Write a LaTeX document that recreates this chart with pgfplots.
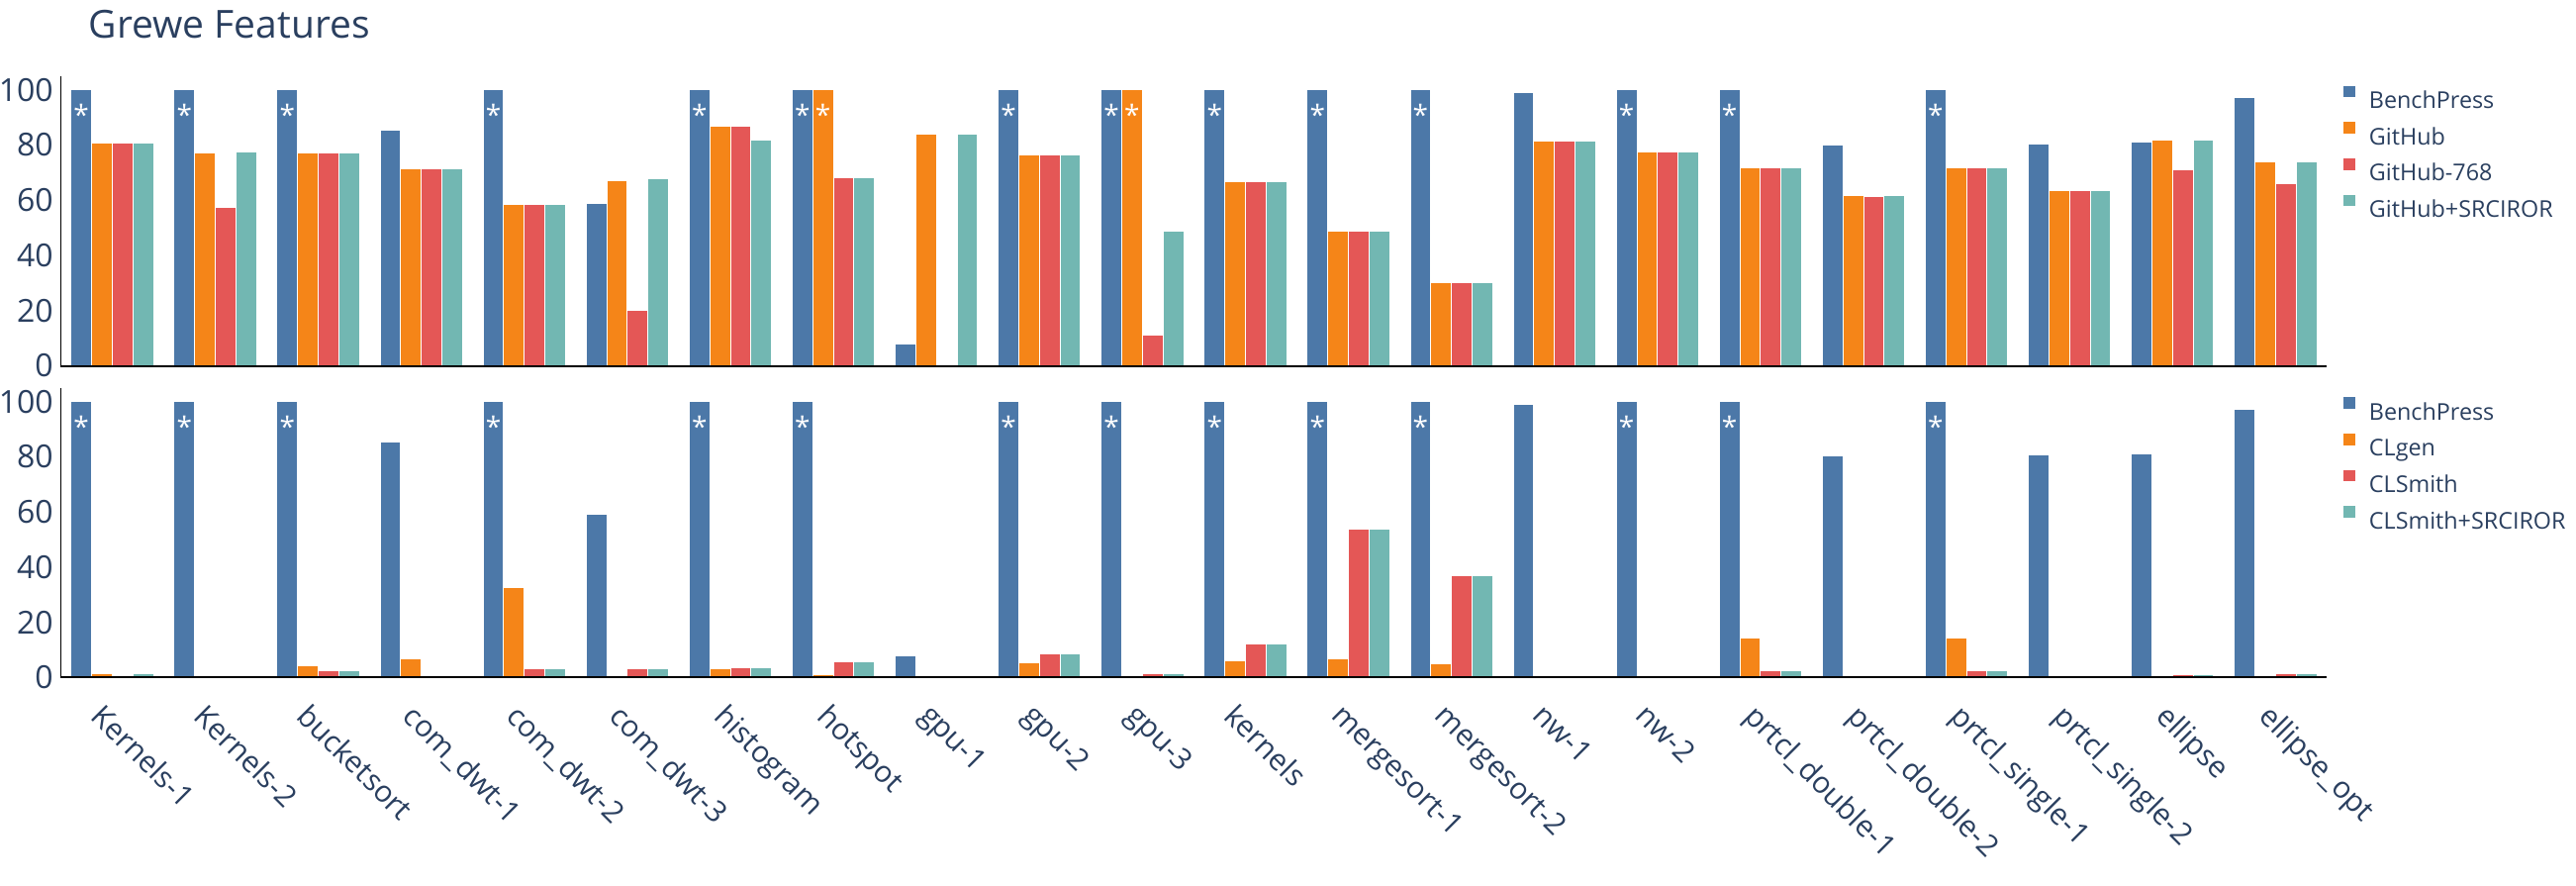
\documentclass[border=0pt]{standalone}
\usepackage{fontspec}
\setmainfont{Open Sans}
\usepackage{graphicx}
\usepackage{pgfplots}
\pgfplotsset{compat=1.18}
\definecolor{cBP}{HTML}{4C78A8}
\definecolor{cGH}{HTML}{F58518}
\definecolor{cGR}{HTML}{E45756}
\definecolor{cTE}{HTML}{72B7B2}
\definecolor{txt}{HTML}{2A3F5F}
\newcommand\xl[1]{\rotatebox{-45}{#1}}
\pgfplotsset{
  grewe/.style={
    scale only axis, width=687pt, height=87.8pt,
    xmin=-0.5, xmax=21.5, ymin=0, ymax=105,
    axis on top,
    axis x line*=bottom, axis y line*=left,
    x axis line style={line width=0.6pt,-},
    y axis line style={line width=0.5pt,-},
    ytick={0,20,...,100}, xtick={0,...,21},
    major tick length=0pt,
    /pgf/number format/assume math mode=true,
    yticklabel style={font=\fontsize{9.6}{10}\selectfont, text=txt, inner sep=0pt, anchor=east, xshift=-2.1pt},
    ybar=0pt, bar width=6.245pt,
    every axis plot/.append style={draw=white, line width=0.3pt},
    point meta=explicit symbolic,
    nodes near coords={\pgfplotspointmeta},
    every node near coord/.append style={font=\fontsize{8.4}{9}\selectfont, text=white, anchor=north, inner sep=0pt, yshift=-4.2pt},
    legend cell align=left,
    legend style={at={(rel axis cs:1,1)}, anchor=north west, xshift=4.65pt, yshift=-2.7pt,
      draw=none, fill=none, inner sep=0pt, row sep=4.1pt, column sep=4.3pt,
      font=\fontsize{7.0}{8}\selectfont, text=txt,
      nodes={inner sep=0pt, text height=5.0pt, text depth=0pt}},
  }
}
\begin{document}
\begin{tikzpicture}
\useasboundingbox (0,0) rectangle (780.9pt,-268.2pt);
\node[anchor=base west, font=\fontsize{11.7}{14}\selectfont, text=txt, inner sep=0pt] at (26.7pt,-11.4pt) {Grewe Features};
\begin{axis}[grewe, at={(18.42pt,-110.85pt)}, anchor=south west, xticklabels={},
  every axis plot post/.append style={legend image code/.code={\fill[##1,draw=none] (0pt,0.9pt) rectangle (3.6pt,4.4pt);}}]
\addplot[fill=cBP] coordinates {(0,100)[*] (1,100)[*] (2,100)[*] (3,85.5) (4,100)[*] (5,59.0) (6,100)[*] (7,100)[*] (8,7.8) (9,100)[*] (10,100)[*] (11,100)[*] (12,100)[*] (13,100)[*] (14,99.0) (15,100)[*] (16,100)[*] (17,80.1) (18,100)[*] (19,80.4) (20,81.0) (21,97.2)};
\addplot[fill=cGH] coordinates {(0,80.7) (1,77.2) (2,77.0) (3,71.5) (4,58.5) (5,67.1) (6,86.7) (7,100)[*] (8,84.0) (9,76.3) (10,100)[*] (11,66.9) (12,48.7) (13,30.0) (14,81.5) (15,77.5) (16,71.8) (17,61.7) (18,71.8) (19,63.5) (20,81.7) (21,73.9)};
\addplot[fill=cGR] coordinates {(0,80.7) (1,57.4) (2,77.0) (3,71.5) (4,58.5) (5,20.1) (6,86.7) (7,68.2) (8,0.2) (9,76.3) (10,11.1) (11,66.9) (12,48.7) (13,30.0) (14,81.5) (15,77.5) (16,71.8) (17,61.5) (18,71.8) (19,63.4) (20,71.2) (21,66.0)};
\addplot[fill=cTE] coordinates {(0,80.7) (1,77.5) (2,77.0) (3,71.5) (4,58.5) (5,67.8) (6,81.9) (7,68.2) (8,84.0) (9,76.3) (10,48.8) (11,66.9) (12,48.7) (13,30.0) (14,81.5) (15,77.5) (16,71.8) (17,61.7) (18,71.8) (19,63.5) (20,81.7) (21,73.9)};
\legend{BenchPress,GitHub,GitHub-768,GitHub+SRCIROR}
\end{axis}
\begin{axis}[grewe, at={(18.42pt,-205.29pt)}, anchor=south west,
  xticklabels={\xl{Kernels-1},\xl{Kernels-2},\xl{bucketsort},\xl{com\_dwt-1},\xl{com\_dwt-2},\xl{com\_dwt-3},\xl{histogram},\xl{hotspot},\xl{gpu-1},\xl{gpu-2},\xl{gpu-3},\xl{kernels},\xl{mergesort-1},\xl{mergesort-2},\xl{nw-1},\xl{nw-2},\xl{prtcl\_double-1},\xl{prtcl\_double-2},\xl{prtcl\_single-1},\xl{prtcl\_single-2},\xl{ellipse},\xl{ellipse\_opt}},
  xticklabel style={font=\fontsize{9.0}{10}\selectfont, text=txt, inner sep=0pt, anchor=north west, xshift=-7.1pt, yshift=-7.2pt},
  every axis plot post/.append style={legend image code/.code={\fill[##1,draw=none] (0pt,0.9pt) rectangle (3.6pt,4.4pt);}}]
\addplot[fill=cBP] coordinates {(0,100)[*] (1,100)[*] (2,100)[*] (3,85.5) (4,100)[*] (5,59.0) (6,100)[*] (7,100)[*] (8,7.8) (9,100)[*] (10,100)[*] (11,100)[*] (12,100)[*] (13,100)[*] (14,99.0) (15,100)[*] (16,100)[*] (17,80.3) (18,100)[*] (19,80.5) (20,81.0) (21,97.2)};
\addplot[fill=cGH] coordinates {(0,1.4) (1,0.1) (2,4.1) (3,6.7) (4,32.5) (5,0.1) (6,3.3) (7,1.0) (8,0.1) (9,5.3) (10,0.1) (11,5.9) (12,6.9) (13,4.8) (14,0.2) (15,0.2) (16,14.2) (17,0.3) (18,14.2) (19,0.3) (20,0.1) (21,0.2)};
\addplot[fill=cGR] coordinates {(0,0.4) (1,0.1) (2,2.4) (3,0.3) (4,3.3) (5,3.0) (6,3.7) (7,5.5) (8,0.1) (9,8.4) (10,1.4) (11,12.2) (12,53.8) (13,36.8) (14,0.6) (15,0.6) (16,2.3) (17,0.2) (18,2.3) (19,0.2) (20,1.0) (21,1.2)};
\addplot[fill=cTE] coordinates {(0,1.2) (1,0.1) (2,2.4) (3,0.3) (4,3.3) (5,3.0) (6,3.6) (7,5.5) (8,0.1) (9,8.4) (10,1.4) (11,12.2) (12,53.8) (13,36.8) (14,0.6) (15,0.6) (16,2.3) (17,0.2) (18,2.3) (19,0.2) (20,1.0) (21,1.2)};
\legend{BenchPress,CLgen,CLSmith,CLSmith+SRCIROR}
\end{axis}
\end{tikzpicture}
\end{document}
